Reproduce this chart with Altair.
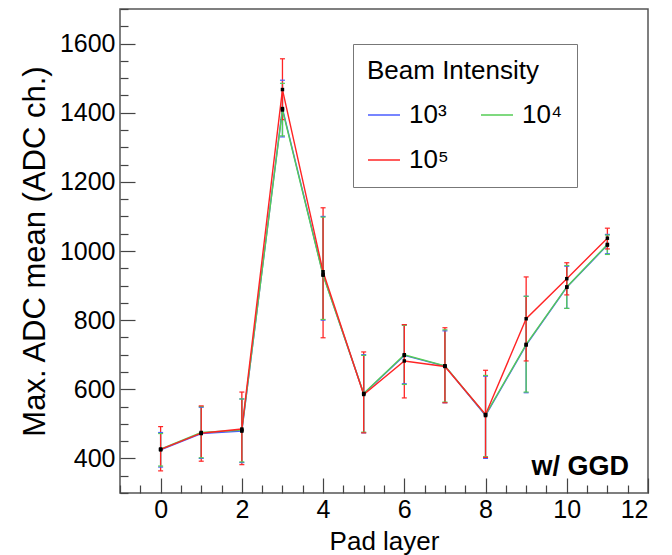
import altair as alt
import pandas as pd

# ---- data ----
pad_layer = list(range(12))
series_names = ["10³", "10⁴", "10⁵"]
series_colors = ["#4a5cff", "#55cc55", "#ff2424"]

mean_1e3 = [425, 472, 479, 1412, 932, 587, 698, 667, 524, 728, 895, 1017]
lo_1e3 = [375, 400, 388, 1330, 800, 474, 616, 561, 400, 590, 834, 992]
hi_1e3 = [475, 548, 572, 1494, 1100, 700, 787, 769, 638, 869, 956, 1048]

mean_1e4 = [427, 475, 482, 1408, 930, 588, 700, 668, 526, 730, 896, 1019]
lo_1e4 = [378, 402, 390, 1333, 802, 476, 614, 563, 405, 592, 834, 990]
hi_1e4 = [472, 550, 572, 1485, 1098, 698, 785, 772, 640, 869, 958, 1046]

mean_1e5 = [426, 473, 485, 1467, 940, 585, 682, 666, 527, 804, 920, 1037]
lo_1e5 = [364, 392, 382, 1380, 749, 474, 575, 561, 403, 682, 873, 1006]
hi_1e5 = [492, 552, 592, 1556, 1125, 708, 787, 778, 655, 925, 966, 1066]

y_label_values = [400, 600, 800, 1000, 1200, 1400, 1600]
y_tick_values = list(range(300, 1701, 50))
x_label_values = [0, 2, 4, 6, 8, 10, 12]
x_tick_values = [v / 2 for v in range(-2, 25)]
annotation_text = ["w/ GGD"]

FONT = "Liberation Sans"
W, H = 528, 484

rows = []
for name, m, lo, hi in [
    (series_names[0], mean_1e3, lo_1e3, hi_1e3),
    (series_names[1], mean_1e4, lo_1e4, hi_1e4),
    (series_names[2], mean_1e5, lo_1e5, hi_1e5),
]:
    for i, x in enumerate(pad_layer):
        rows.append({"pad": x, "mean": m[i], "lo": lo[i], "hi": hi[i], "series": name})
df = pd.DataFrame(rows)

xs = alt.Scale(domain=[-1, 12], nice=False, zero=False)
ys = alt.Scale(domain=[300, 1700], nice=False, zero=False)
cs = alt.Scale(domain=series_names, range=series_colors)

legend = alt.Legend(
    title="Beam Intensity", orient="none", legendX=233, legendY=35,
    direction="horizontal", columns=2,
    symbolType="stroke", symbolSize=1024, symbolStrokeWidth=1.5, symbolOpacity=1,
    labelFontSize=26, titleFontSize=26, titleFontWeight="normal",
    labelFont=FONT, titleFont=FONT, labelColor="black", titleColor="black",
    padding=14, strokeColor="#777", fillColor="white", labelOffset=8,
    columnPadding=29, rowPadding=15, titlePadding=14,
    labelExpr="datum.label == '10⁴' ? datum.label + '     ' : datum.label",
)
color = alt.Color("series:N", scale=cs, legend=legend, sort=series_names)

axis_x_labels = alt.Axis(orient="bottom", values=x_label_values, ticks=False, tickSize=0,
                         domain=False, grid=False, labelFontSize=25, labelPadding=4,
                         titleFontSize=26, titlePadding=6, format="d")
axis_y_labels = alt.Axis(orient="left", values=y_label_values, ticks=False, tickSize=0,
                         domain=False, grid=False, labelFontSize=25, labelPadding=5,
                         titleFontSize=31, titlePadding=8, format="d")
axis_x_ticks = alt.Axis(orient="top", offset=-H, values=x_tick_values, labels=False,
                        domain=False, grid=False, title="", tickColor="#444", tickWidth=1.2,
                        tickSize={"condition": {"test": "datum.value % 2 === 0", "value": 15},
                                  "value": 8})
axis_y_ticks = alt.Axis(orient="right", offset=-W, values=y_tick_values, labels=False,
                        domain=False, grid=False, title="", tickColor="#444", tickWidth=1.2,
                        tickSize={"condition": {"test": "datum.value % 200 === 0", "value": 15},
                                  "value": 8})

base = alt.Chart(df)

err = base.mark_rule(strokeWidth=1.3, opacity=1).encode(
    x=alt.X("pad:Q", scale=xs, axis=axis_x_labels, title="Pad layer"),
    y=alt.Y("lo:Q", scale=ys, axis=axis_y_labels, title="Max. ADC mean (ADC ch.)"),
    y2="hi:Q",
    color=color,
)

cap_lo = base.mark_tick(orient="horizontal", size=5, thickness=1.2, opacity=1).encode(
    x=alt.X("pad:Q", scale=xs, axis=axis_x_ticks),
    y=alt.Y("lo:Q", scale=ys, axis=axis_y_ticks),
    color=color,
)

cap_hi = base.mark_tick(orient="horizontal", size=5, thickness=1.2, opacity=1).encode(
    x=alt.X("pad:Q", scale=xs, axis=None),
    y=alt.Y("hi:Q", scale=ys, axis=None),
    color=color,
)

lines = base.mark_line(strokeWidth=1.4, opacity=1).encode(
    x=alt.X("pad:Q", scale=xs, axis=None),
    y=alt.Y("mean:Q", scale=ys, axis=None),
    color=color,
    order=alt.Order("pad:Q"),
)

points = base.mark_square(size=12, color="black", opacity=1).encode(
    x=alt.X("pad:Q", scale=xs, axis=None),
    y=alt.Y("mean:Q", scale=ys, axis=None),
)

note = alt.Chart(pd.DataFrame({"label": annotation_text})).mark_text(
    font=FONT, fontSize=27, fontWeight="bold", align="right", baseline="alphabetic",
    color="black",
).encode(x=alt.value(509), y=alt.value(466), text="label:N")

chart = alt.layer(err, cap_lo, cap_hi, lines, points, note).resolve_axis(
    x="independent", y="independent"
).properties(
    width=W, height=H,
    autosize=alt.AutoSizeParams(type="none"),
    padding={"left": 120, "top": 9, "right": 24, "bottom": 62},
    background="white",
).configure_view(
    stroke="#555", strokeWidth=1.5
).configure_axis(
    labelFont=FONT, titleFont=FONT, labelColor="black", titleColor="black",
    titleFontWeight="normal",
)

chart.save("out.html", embed_options={"renderer": "svg", "actions": False})
